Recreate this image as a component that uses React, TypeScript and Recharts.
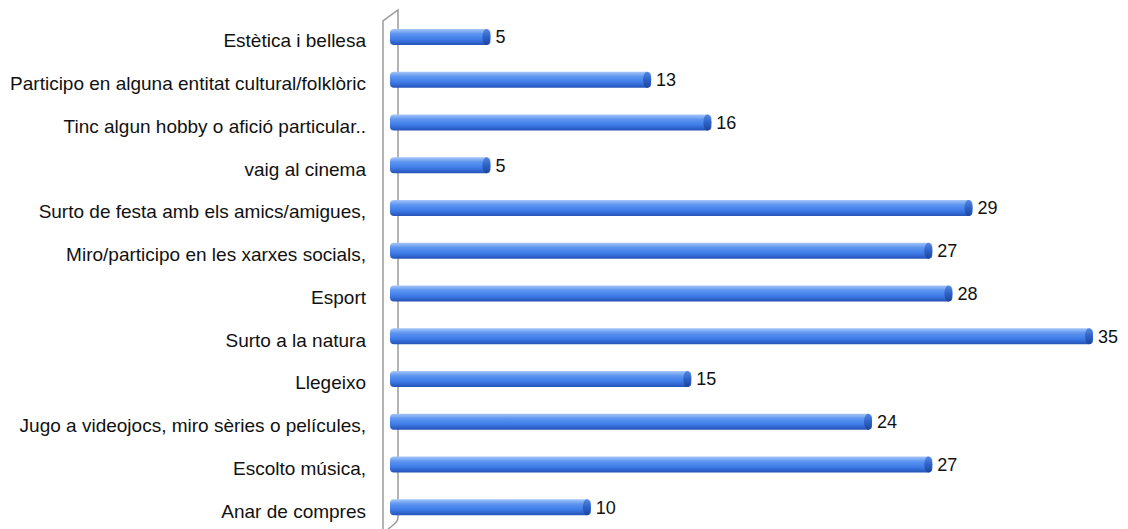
import React from "react";
import { BarChart, Bar, XAxis, YAxis, LabelList } from "recharts";

const categories = [
  "Estètica i bellesa",
  "Participo en alguna entitat cultural/folklòric",
  "Tinc algun hobby o afició particular..",
  "vaig al cinema",
  "Surto de festa amb els amics/amigues,",
  "Miro/participo en les xarxes socials,",
  "Esport",
  "Surto a la natura",
  "Llegeixo",
  "Jugo a videojocs, miro sèries o películes,",
  "Escolto música,",
  "Anar de compres",
];
const values = [5, 13, 16, 5, 29, 27, 28, 35, 15, 24, 27, 10];

const data = categories.map((name, i) => ({ name, value: values[i] }));

const FONT = "'Liberation Sans', Arial, sans-serif";

const CylinderBar = (props: any) => {
  const { x, y, width, height } = props;
  if (!width || width <= 0) return null;
  const r = 4;
  return (
    <g>
      <rect x={x} y={y} width={width} height={height} rx={r} ry={r} fill="url(#barGrad)" />
      <ellipse cx={x + width - r} cy={y + height / 2} rx={r} ry={height / 2} fill="url(#capGrad)" />
    </g>
  );
};

const CategoryTick = (props: any) => {
  const { y, payload } = props;
  return (
    <text x={366} y={y} dy={10} textAnchor="end" fontSize={19} fontFamily={FONT} fill="#111">
      {payload.value}
    </text>
  );
};

// 3d-ish axis wall on the left of the bars
const AxisWall = () => (
  <g fill="none" stroke="#9a9a9a" strokeWidth={1.5}>
    <path d="M383 529 L383 21 L398 10 L398 517 Q398 522 392 526 L388 529" />
  </g>
);

export default function App() {
  return (
    <div style={{ width: 1128, height: 529, background: "#fff" }}>
      <style>{`body{margin:0}`}</style>
      <BarChart
        width={1128}
        height={529}
        data={data}
        layout="vertical"
        margin={{ top: 16, right: 35, bottom: 0, left: 0 }}
        barCategoryGap={0}
      >
        <defs>
          <linearGradient id="barGrad" x1="0" y1="0" x2="0" y2="1">
            <stop offset="0%" stopColor="#a6c6f8" />
            <stop offset="30%" stopColor="#5d95f0" />
            <stop offset="65%" stopColor="#3f7ce8" />
            <stop offset="100%" stopColor="#2552b8" />
          </linearGradient>
          <linearGradient id="capGrad" x1="0" y1="0" x2="0" y2="1">
            <stop offset="0%" stopColor="#5688dc" />
            <stop offset="50%" stopColor="#2f62c8" />
            <stop offset="100%" stopColor="#1c4496" />
          </linearGradient>
        </defs>
        <AxisWall />
        <XAxis type="number" domain={[0, 35]} hide />
        <YAxis
          type="category"
          dataKey="name"
          width={390}
          axisLine={false}
          tickLine={false}
          interval={0}
          tick={<CategoryTick />}
        />
        <Bar dataKey="value" barSize={16} shape={<CylinderBar />} isAnimationActive={false}>
          <LabelList
            dataKey="value"
            position="right"
            offset={5}
            fill="#111"
            fontSize={18}
            fontFamily={FONT}
          />
        </Bar>
      </BarChart>
    </div>
  );
}
